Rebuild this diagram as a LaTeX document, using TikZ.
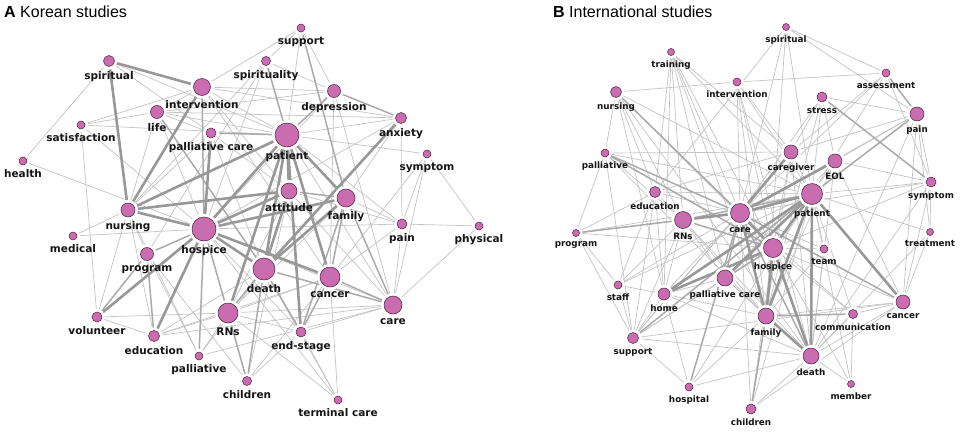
\documentclass[tikz,border=0pt]{standalone}
\usepackage{fontspec}
\setmainfont{Liberation Sans}
\newfontfamily\kwfont{DejaVu Sans}
\usetikzlibrary{backgrounds}

\definecolor{kwfill}{RGB}{201,108,176}
\definecolor{kwline}{RGB}{80,30,65}
\definecolor{linkthin}{RGB}{195,195,195}
\definecolor{linkmid}{RGB}{170,170,170}
\definecolor{linkbold}{RGB}{152,152,152}

\begin{document}
\begin{tikzpicture}[x=1pt,y=-1pt,label distance=3.5pt,
    kw/.style={circle,draw=kwline,fill=kwfill,line width=0.5pt,inner sep=0pt,
      preaction={draw=white,line width=6pt}},
    lblA/.style={font=\kwfont\bfseries\fontsize{10.5}{12}\selectfont,text=black!92,inner sep=1pt},
    lblB/.style={font=\kwfont\bfseries\fontsize{8.8}{10}\selectfont,text=black!92,inner sep=1pt},
    weak/.style={draw=linkthin,line width=0.7pt},
    mid/.style={draw=linkmid,line width=1.5pt},
    strong/.style={draw=linkbold,line width=2.6pt}]

    \useasboundingbox (0,0) rectangle (963,431);

    \node[anchor=base west,inner sep=0pt,font=\fontsize{16}{18}\selectfont] (titleA) at (4,17) {\textbf{A} Korean studies};
    \node[anchor=base west,inner sep=0pt,font=\fontsize{16}{18}\selectfont] (titleB) at (553,17) {\textbf{B} International studies};

    % A: Korean studies
    \node[kw,minimum size=11,label={[lblA]below:spiritual}] (aspiritual) at (109,61) {};
    \node[kw,minimum size=17,label={[lblA]below:intervention}] (aintervention) at (202,87) {};
    \node[kw,minimum size=9,label={[lblA]below:spirituality}] (aspirituality) at (266,61) {};
    \node[kw,minimum size=8,label={[lblA]below:support}] (asupport) at (301,28) {};
    \node[kw,minimum size=13,label={[lblA]below:depression}] (adepression) at (334,91) {};
    \node[kw,minimum size=11,label={[lblA]below:anxiety}] (aanxiety) at (401,118) {};
    \node[kw,minimum size=8,label={[lblA]below:symptom}] (asymptom) at (427,154) {};
    \node[kw,minimum size=13,label={[lblA]below:life}] (alife) at (157,112) {};
    \node[kw,minimum size=8,label={[lblA]below:satisfaction}] (asatisfaction) at (81,125) {};
    \node[kw,minimum size=10,label={[lblA]below:palliative care}] (apallcare) at (211,133) {};
    \node[kw,minimum size=24,label={[lblA]below:patient}] (apatient) at (287,135) {};
    \node[kw,minimum size=8,label={[lblA]below:health}] (ahealth) at (23,161) {};
    \node[kw,minimum size=16,label={[lblA]below:attitude}] (aattitude) at (289,191) {};
    \node[kw,minimum size=18,label={[lblA]below:family}] (afamily) at (346,198) {};
    \node[kw,minimum size=14,label={[lblA]below:nursing}] (anursing) at (128,210) {};
    \node[kw,minimum size=24,label={[lblA]below:hospice}] (ahospice) at (204,229) {};
    \node[kw,minimum size=13,label={[lblA]below:program}] (aprogram) at (147,254) {};
    \node[kw,minimum size=8,label={[lblA]below:medical}] (amedical) at (73,236) {};
    \node[kw,minimum size=10,label={[lblA]below:pain}] (apain) at (402,224) {};
    \node[kw,minimum size=8,label={[lblA]below:physical}] (aphysical) at (479,226) {};
    \node[kw,minimum size=22,label={[lblA]below:death}] (adeath) at (264,269) {};
    \node[kw,minimum size=20,label={[lblA]below:cancer}] (acancer) at (330,277) {};
    \node[kw,minimum size=18,label={[lblA]below:care}] (acare) at (393,305) {};
    \node[kw,minimum size=10,label={[lblA]below:volunteer}] (avolunteer) at (97,317) {};
    \node[kw,minimum size=11,label={[lblA]below:education}] (aeducation) at (154,336) {};
    \node[kw,minimum size=20,label={[lblA]below:RNs}] (arns) at (228,313) {};
    \node[kw,minimum size=10,label={[lblA]below:end-stage}] (aendstage) at (301,332) {};
    \node[kw,minimum size=8,label={[lblA]below:palliative}] (apalliative) at (199,356) {};
    \node[kw,minimum size=9,label={[lblA]below:children}] (achildren) at (247,381) {};
    \node[kw,minimum size=8,label={[lblA]below:terminal care}] (aterminal) at (338,400) {};

    % B: International studies
    \node[kw,minimum size=7,label={[lblB]below:training}] (btraining) at (671,52) {};
    \node[kw,minimum size=7,label={[lblB]below:spiritual}] (bspiritual) at (786,27) {};
    \node[kw,minimum size=8,label={[lblB]below:intervention}] (bintervention) at (737,82) {};
    \node[kw,minimum size=8,label={[lblB]below:assessment}] (bassessment) at (886,73) {};
    \node[kw,minimum size=11,label={[lblB]below:nursing}] (bnursing) at (616,92) {};
    \node[kw,minimum size=10,label={[lblB]below:stress}] (bstress) at (822,97) {};
    \node[kw,minimum size=14,label={[lblB]below:pain}] (bpain) at (917,114) {};
    \node[kw,minimum size=8,label={[lblB]below:palliative}] (bpalliative) at (605,153) {};
    \node[kw,minimum size=14,label={[lblB]below:caregiver}] (bcaregiver) at (791,152) {};
    \node[kw,minimum size=14,label={[lblB]below:EOL}] (beol) at (835,161) {};
    \node[kw,minimum size=11,label={[lblB]below:education}] (beducation) at (655,192) {};
    \node[kw,minimum size=17,label={[lblB]below:RNs}] (brns) at (683,220) {};
    \node[kw,minimum size=19,label={[lblB]below:care}] (bcare) at (740,213) {};
    \node[kw,minimum size=21,label={[lblB]below:patient}] (bpatient) at (812,194) {};
    \node[kw,minimum size=10,label={[lblB]below:symptom}] (bsymptom) at (931,182) {};
    \node[kw,minimum size=7,label={[lblB]below:program}] (bprogram) at (576,233) {};
    \node[kw,minimum size=7,label={[lblB]below:treatment}] (btreatment) at (930,232) {};
    \node[kw,minimum size=19,label={[lblB]below:hospice}] (bhospice) at (773,248) {};
    \node[kw,minimum size=8,label={[lblB]below:team}] (bteam) at (824,249) {};
    \node[kw,minimum size=16,label={[lblB]below:palliative care}] (bpallcare) at (725,278) {};
    \node[kw,minimum size=8,label={[lblB]below:staff}] (bstaff) at (618,285) {};
    \node[kw,minimum size=12,label={[lblB]below:home}] (bhome) at (664,294) {};
    \node[kw,minimum size=14,label={[lblB]below:cancer}] (bcancer) at (903,302) {};
    \node[kw,minimum size=9,label={[lblB]below:communication}] (bcomm) at (853,314) {};
    \node[kw,minimum size=16,label={[lblB]below:family}] (bfamily) at (766,316) {};
    \node[kw,minimum size=11,label={[lblB]below:support}] (bsupport) at (633,338) {};
    \node[kw,minimum size=16,label={[lblB]below:death}] (bdeath) at (811,356) {};
    \node[kw,minimum size=7,label={[lblB]below:member}] (bmember) at (851,384) {};
    \node[kw,minimum size=8,label={[lblB]below:hospital}] (bhospital) at (689,387) {};
    \node[kw,minimum size=10,label={[lblB]below:children}] (bchildren) at (751,409) {};

    \begin{scope}[on background layer]
    % A links
    \draw[weak] (aspiritual) edge (ahealth) edge (apatient) edge (apallcare);
    \draw[weak] (aintervention) edge (adepression) edge (apatient) edge (aanxiety) edge (alife) edge (asatisfaction) edge (aattitude) edge (acancer);
    \draw[weak] (asatisfaction) edge (alife) edge (apatient) edge (avolunteer) edge (ahospice);
    \draw[weak] (ahealth) edge (ahospice);
    \draw[weak] (asupport) edge (aintervention) edge (apatient) edge (aspirituality) edge (adepression);
    \draw[weak] (aspirituality) edge (apatient) edge (anursing) edge (adepression) edge (ahospice) edge (aprogram);
    \draw[weak] (adepression) edge (apatient) edge (acare) edge (acancer) edge (alife) edge (ahospice);
    \draw[weak] (aanxiety) edge (apatient) edge (apain) edge (alife) edge (afamily) edge (ahospice);
    \draw[weak] (asymptom) edge (apatient) edge (apain) edge (aphysical) edge (acancer) edge (acare);
    \draw[weak] (apain) edge (afamily) edge (ahospice) edge (apatient) edge (aattitude) edge (acancer) edge (acare) edge (aphysical);
    \draw[weak] (aphysical) edge (acare);
    \draw[weak] (amedical) edge (anursing) edge (ahospice);
    \draw[weak] (avolunteer) edge (aeducation) edge (arns) edge (anursing);
    \draw[weak] (aeducation) edge (arns) edge (anursing) edge (adeath) edge (acancer);
    \draw[weak] (apalliative) edge (aprogram) edge (arns) edge (adeath) edge (acare) edge (anursing);
    \draw[weak] (achildren) edge (ahospice) edge (acancer) edge (aprogram) edge (aendstage) edge (aattitude);
    \draw[weak] (aterminal) edge (aendstage) edge (adeath) edge (arns) edge (acancer) edge (ahospice);
    \draw[weak] (aendstage) edge (acare) edge (ahospice) edge (arns);
    \draw[weak] (acare) edge (ahospice) edge (arns) edge (aattitude) edge (apatient) edge (aeducation);
    \draw[weak] (arns) edge (acancer) edge (afamily) edge (aattitude);
    \draw[weak] (alife) edge (apallcare) edge (apatient) edge (ahospice);
    \draw[weak] (apallcare) edge (apatient) edge (anursing) edge (aattitude) edge (adeath);
    \draw[weak] (anursing) edge (aprogram) edge (alife);

    \draw[mid] (adepression) edge (aanxiety);
    \draw[mid] (ahospice) edge (aprogram) edge (arns) edge (apalliative) edge (aintervention);
    \draw[mid] (aprogram) edge (aeducation) edge (avolunteer);
    \draw[mid] (adeath) edge (achildren) edge (acare) edge (arns) edge (aendstage);
    \draw[mid] (acancer) edge (acare) edge (aendstage) edge (afamily);
    \draw[mid] (arns) edge (achildren);
    \draw[mid] (afamily) edge (aendstage) edge (asupport) edge (aattitude) edge (acare);
    \draw[mid] (alife) edge (adeath);
    \draw[mid] (apatient) edge (apallcare) edge (aspirituality) edge (adepression);

    \draw[strong] (aspiritual) edge (aintervention) edge (anursing);
    \draw[strong] (aintervention) edge (anursing);
    \draw[strong] (apatient) edge (ahospice) edge (aattitude) edge (adeath) edge (acancer) edge (afamily) edge (aendstage) edge (anursing) edge (arns);
    \draw[strong] (ahospice) edge (aattitude) edge (adeath) edge (acancer) edge (anursing) edge (avolunteer) edge (aeducation) edge (apallcare) edge (afamily);
    \draw[strong] (aattitude) edge (adeath) edge (anursing);
    \draw[strong] (afamily) edge (adeath);
    \draw[strong] (aanxiety) edge (adeath);

    % B links
    \draw[weak] (btraining) edge (bcare) edge (bpatient) edge (brns) edge (bhospice) edge (bpallcare) edge (beducation) edge (bfamily) edge (bhome) edge (bcaregiver);
    \draw[weak] (bspiritual) edge (bassessment) edge (bpain) edge (bcare) edge (bpatient) edge (bfamily) edge (beducation);
    \draw[weak] (bintervention) edge (bnursing) edge (bassessment) edge (bpatient) edge (bcare) edge (bcaregiver) edge (bfamily) edge (bhospice) edge (bdeath);
    \draw[weak] (bassessment) edge (bsymptom) edge (bpatient) edge (bcare) edge (bcaregiver);
    \draw[weak] (bnursing) edge (bpalliative) edge (brns) edge (bhospice) edge (bpatient) edge (beducation) edge (bhome) edge (bdeath);
    \draw[weak] (bstress) edge (bcaregiver) edge (bfamily) edge (bpain) edge (bpatient) edge (beol) edge (bcare);
    \draw[weak] (bpain) edge (bsymptom) edge (bcare) edge (bcaregiver) edge (bcancer) edge (btreatment) edge (beol) edge (bdeath);
    \draw[weak] (bpalliative) edge (bpatient) edge (bprogram) edge (bfamily) edge (brns) edge (bsupport) edge (bcaregiver);
    \draw[weak] (bcaregiver) edge (bpatient) edge (bfamily) edge (bhospice) edge (bdeath) edge (bsupport) edge (beducation);
    \draw[weak] (beol) edge (bpatient) edge (bsymptom) edge (bcancer) edge (bdeath) edge (bfamily) edge (bpallcare);
    \draw[weak] (beducation) edge (brns) edge (bcare) edge (bprogram) edge (bstaff) edge (bpatient) edge (bhome) edge (bsupport);
    \draw[weak] (brns) edge (bdeath) edge (bstaff) edge (bsupport) edge (bhome) edge (bpallcare) edge (bprogram) edge (bfamily);
    \draw[weak] (bprogram) edge (bpatient) edge (bstaff) edge (bsupport) edge (bhospice);
    \draw[weak] (bsymptom) edge (bpatient) edge (bcancer) edge (btreatment) edge (bhospice) edge (bdeath) edge (bcare);
    \draw[weak] (btreatment) edge (bcancer) edge (bpatient) edge (bdeath);
    \draw[weak] (bteam) edge (bhospice) edge (bpatient) edge (bdeath) edge (bcare) edge (bfamily);
    \draw[weak] (bcomm) edge (bdeath) edge (bpatient) edge (bcare) edge (bcancer) edge (bhospice);
    \draw[weak] (bcancer) edge (bdeath) edge (bhospice) edge (bfamily) edge (bsupport) edge (bchildren);
    \draw[weak] (bstaff) edge (bsupport) edge (bcare) edge (bhome) edge (bpatient);
    \draw[weak] (bhome) edge (bcare) edge (bdeath) edge (bsupport) edge (bfamily) edge (bpallcare);
    \draw[weak] (bpallcare) edge (bdeath) edge (bfamily) edge (bsupport);
    \draw[weak] (bsupport) edge (bcare) edge (bdeath) edge (bhospital) edge (bhospice);
    \draw[weak] (bhospital) edge (bpatient) edge (bdeath) edge (bhome) edge (bfamily);
    \draw[weak] (bchildren) edge (bdeath) edge (bhospice) edge (bpatient) edge (bcare);
    \draw[weak] (bmember) edge (bdeath) edge (bpatient) edge (bhospice) edge (bcomm);

    \draw[mid] (bassessment) edge (bpain);
    \draw[mid] (bnursing) edge (bcare);
    \draw[mid] (bstress) edge (bsymptom);
    \draw[mid] (bpain) edge (bpatient);
    \draw[mid] (bpalliative) edge (bcare) edge (bhospice);
    \draw[mid] (bprogram) edge (bcare);
    \draw[mid] (bcomm) edge (bfamily);
    \draw[mid] (bcancer) edge (bcare);
    \draw[mid] (bsupport) edge (bpatient);
    \draw[mid] (bhospital) edge (bcare);
    \draw[mid] (bchildren) edge (bfamily);
    \draw[mid] (brns) edge (bhospice) edge (bpatient);
    \draw[mid] (bpallcare) edge (bcare) edge (bhospice);
    \draw[mid] (bcare) edge (bdeath);

    \draw[strong] (bpatient) edge (bcare) edge (bhospice) edge (bdeath) edge (bfamily) edge (bpallcare) edge (bhome) edge (bcancer);
    \draw[strong] (bcare) edge (bhospice) edge (brns) edge (bfamily) edge (bcaregiver) edge (beol);
    \draw[strong] (bhospice) edge (bdeath) edge (bfamily) edge (bhome);
    \draw[strong] (bfamily) edge (bdeath);
    \end{scope}
\end{tikzpicture}
\end{document}
